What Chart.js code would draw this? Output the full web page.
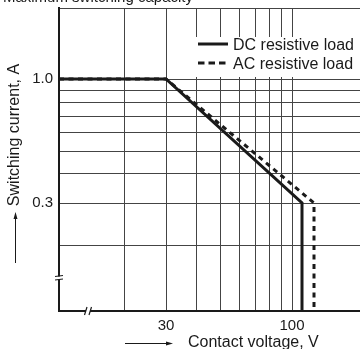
<!DOCTYPE html>
<html>
<head>
<meta charset="utf-8">
<script src="https://cdn.jsdelivr.net/npm/chart.js@4"></script>
<style>
  html, body { margin: 0; padding: 0; background: #fff; }
  #wrap { width: 360px; height: 349px; }
</style>
</head>
<body>
<div id="wrap"><canvas id="capChart" width="360" height="349"></canvas></div>
<script>
// grid / tick values
const voltageGrid = [20, 30, 40, 50, 60, 70, 80, 90, 100];
const voltageLabels = [30, 100];
const currentGrid = [0.2, 0.3, 0.4, 0.5, 0.6, 0.7, 0.8, 0.9, 1.0, 2.0];
const currentLabels = [0.3, 1.0];
const voltageRange = [10.8, 191];
const currentRange = [0.105, 2.0];

// series
const dcVoltage = [10.8, 30, 110, 110];
const dcCurrent = [1.0, 1.0, 0.3, 0.105];
const acVoltage = [10.8, 30, 123, 123];
const acCurrent = [1.0, 1.0, 0.3, 0.105];

const FONT = '"Liberation Sans", Arial, Helvetica, sans-serif';
const INK = '#1a1a1a';

const toPoints = (xs, ys) => xs.map((x, i) => ({ x: x, y: ys[i] }));

// titles, arrows, legend and axis breaks
const decorations = {
    id: 'decorations',
    afterDraw(chart) {
        const c = chart.ctx;
        c.save();
        c.fillStyle = INK;
        c.strokeStyle = INK;

        // cropped main title at the very top
        c.font = '15px ' + FONT;
        c.textAlign = 'right';
        c.textBaseline = 'alphabetic';
        c.fillText('Maximum switching capacity', 193, 2);

        // y title + arrow
        c.save();
        c.translate(19, 135);
        c.rotate(-Math.PI / 2);
        c.font = '16px ' + FONT;
        c.textAlign = 'center';
        c.fillText('Switching current, A', 0, 0);
        c.restore();
        c.lineWidth = 1;
        c.beginPath();
        c.moveTo(15.5, 263); c.lineTo(15.5, 218);
        c.stroke();
        c.beginPath();
        c.moveTo(15.5, 212); c.lineTo(13.5, 219); c.lineTo(17.5, 219); c.closePath();
        c.fill();

        // x title + arrow
        c.font = '16px ' + FONT;
        c.textAlign = 'left';
        c.fillText('Contact voltage, V', 188, 347);
        c.beginPath();
        c.moveTo(125, 343.5); c.lineTo(166, 343.5);
        c.stroke();
        c.beginPath();
        c.moveTo(173, 343.5); c.lineTo(166, 341.5); c.lineTo(166, 345.5); c.closePath();
        c.fill();

        // legend box
        c.fillStyle = '#fff';
        c.fillRect(189, 37, 171, 40);
        c.fillStyle = INK;
        c.lineWidth = 3;
        c.beginPath();
        c.moveTo(198, 44); c.lineTo(228, 44);
        c.stroke();
        c.setLineDash([6.5, 4]);
        c.beginPath();
        c.moveTo(198, 63); c.lineTo(228, 63);
        c.stroke();
        c.setLineDash([]);
        c.font = '16px ' + FONT;
        c.textAlign = 'left';
        c.fillText('DC resistive load', 233, 49.5);
        c.fillText('AC resistive load', 233, 68.5);

        // axis breaks
        c.fillStyle = '#fff';
        c.fillRect(56, 276.5, 6, 3);
        c.fillRect(86, 308, 4, 6);
        c.lineWidth = 1.2;
        c.beginPath();
        c.moveTo(55, 276.5); c.lineTo(63, 275.5);
        c.moveTo(55, 280); c.lineTo(63, 279);
        c.moveTo(84.5, 315); c.lineTo(87, 307);
        c.moveTo(89, 315); c.lineTo(91.5, 307);
        c.stroke();
        c.restore();
    }
};

new Chart(document.getElementById('capChart'), {
    type: 'line',
    data: {
        datasets: [
            {
                label: 'DC resistive load',
                data: toPoints(dcVoltage, dcCurrent),
                borderColor: INK,
                borderWidth: 3,
                pointRadius: 0,
                tension: 0,
                borderJoinStyle: 'miter',
                order: 1
            },
            {
                label: 'AC resistive load',
                data: toPoints(acVoltage, acCurrent),
                borderColor: INK,
                borderWidth: 3,
                borderDash: [5, 4.5],
                pointRadius: 0,
                tension: 0,
                borderJoinStyle: 'miter',
                order: 2
            }
        ]
    },
    options: {
        responsive: false,
        animation: false,
        devicePixelRatio: 1,
        layout: { padding: { top: 8, left: 0, right: 0, bottom: 0 } },
        plugins: {
            legend: { display: false },
            tooltip: { enabled: false }
        },
        scales: {
            x: {
                type: 'logarithmic',
                min: voltageRange[0],
                max: voltageRange[1],
                bounds: 'data',
                alignToPixels: true,
                afterBuildTicks: (s) => { s.ticks = voltageGrid.map(v => ({ value: v })); },
                afterFit: (s) => { s.height = 38; s.paddingLeft = 0; s.paddingRight = 0; },
                grid: { color: '#444', lineWidth: 1, drawTicks: false },
                border: { display: true, color: INK, width: 2 },
                ticks: {
                    autoSkip: false,
                    maxRotation: 0,
                    padding: 6,
                    color: INK,
                    font: { family: FONT, size: 15 },
                    callback: (v) => voltageLabels.includes(v) ? String(v) : ''
                }
            },
            y: {
                type: 'logarithmic',
                min: currentRange[0],
                max: currentRange[1],
                bounds: 'data',
                alignToPixels: true,
                afterBuildTicks: (s) => { s.ticks = currentGrid.map(v => ({ value: v })); },
                afterFit: (s) => { s.width = 59; s.paddingTop = 0; s.paddingBottom = 0; },
                grid: { color: '#444', lineWidth: 1, drawTicks: false },
                border: { display: true, color: INK, width: 2 },
                ticks: {
                    autoSkip: false,
                    padding: 6,
                    color: INK,
                    font: { family: FONT, size: 15 },
                    callback: (v) => currentLabels.includes(v) ? v.toFixed(1) : ''
                }
            }
        }
    },
    plugins: [decorations]
});
</script>
</body>
</html>
